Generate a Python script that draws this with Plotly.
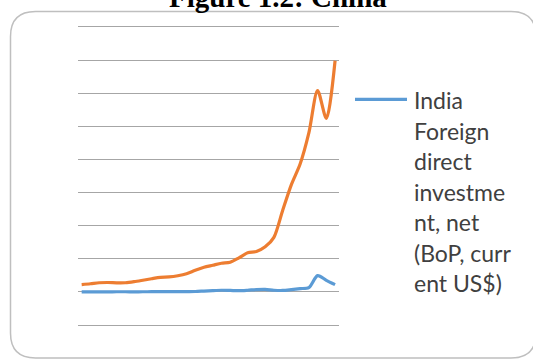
import plotly.graph_objects as go

# Annual series (US$ billions), oldest to newest
years = list(range(1984, 2014))
china_fdi = [11.1, 12.3, 13.8, 14.2, 13.7, 13.8, 15.4, 17.6, 19.9, 22.0,
             22.6, 24.4, 27.4, 32.7, 37.2, 40.2, 43.2, 44.7, 51.5, 59.0,
             61.0, 68.0, 82.4, 123.0, 162.0, 193.0, 240.0, 304.0, 262.0, 349.0]
india_fdi = [0.1, 0.1, 0.1, 0.1, 0.2, 0.2, 0.1, 0.2, 0.3, 0.3,
             0.4, 0.4, 0.5, 0.6, 1.3, 2.0, 2.5, 2.2, 1.8, 2.5,
             3.5, 3.8, 2.5, 2.2, 3.5, 5.0, 6.5, 24.5, 17.5, 11.0]
legend_lines = ["India", "Foreign", "direct", "investme", "nt, net",
                "(BoP, curr", "ent US$)"]
title_text = "Figure 1.2: China"

FIG_W, FIG_H = 533, 361
# value axis spans -65..415 so the -50 and 400 gridlines sit inside the plot
Y_MIN, Y_MAX = -65.08, 415.08
L, R, T, B = 78, 194, 16.5, 26
PW = FIG_W - L - R
PH = FIG_H - T - B


def px_x(px):
    return (px - L) / PW


def px_y(py):
    return (FIG_H - B - py) / PH


fig = go.Figure()
fig.add_trace(go.Scatter(
    x=years, y=china_fdi, mode="lines", name="China",
    line=dict(color="#ED7D31", width=3.2, shape="spline", smoothing=0.8),
    showlegend=False,
))
fig.add_trace(go.Scatter(
    x=years, y=india_fdi, mode="lines",
    name="India Foreign direct investment, net (BoP, current US$)",
    line=dict(color="#5B9BD5", width=3.2, shape="spline", smoothing=0.8),
    showlegend=False,
))

# Rounded chart frame
x0, x1, y0, y1, r = 10.5, 536, 11, 358, 25
path = (
    f"M {px_x(x0)} {px_y(y0 + r)} "
    f"Q {px_x(x0)} {px_y(y0)} {px_x(x0 + r)} {px_y(y0)} "
    f"L {px_x(x1 - r)} {px_y(y0)} "
    f"Q {px_x(x1)} {px_y(y0)} {px_x(x1)} {px_y(y0 + r)} "
    f"L {px_x(x1)} {px_y(y1 - r)} "
    f"Q {px_x(x1)} {px_y(y1)} {px_x(x1 - r)} {px_y(y1)} "
    f"L {px_x(x0 + r)} {px_y(y1)} "
    f"Q {px_x(x0)} {px_y(y1)} {px_x(x0)} {px_y(y1 - r)} Z"
)
fig.add_shape(type="path", path=path, xref="paper", yref="paper",
              line=dict(color="#BFBFBF", width=1.5), layer="below")

# Legend entry for the India series
fig.add_shape(type="line", xref="paper", yref="paper",
              x0=px_x(355), x1=px_x(407), y0=px_y(99), y1=px_y(99),
              line=dict(color="#5B9BD5", width=3.2))
for k, txt in enumerate(legend_lines):
    fig.add_annotation(
        text=txt, xref="paper", yref="paper",
        x=px_x(412), y=px_y(100 + k * 30.5),
        xanchor="left", yanchor="middle", showarrow=False,
        font=dict(family="Lato, Open Sans, sans-serif", size=23, color="#404040"),
    )

fig.add_annotation(
    text=f"<b>{title_text}</b>", xref="paper", yref="paper",
    x=px_x(278), y=px_y(14.5), xanchor="center", yanchor="bottom",
    showarrow=False,
    font=dict(family="Liberation Serif, Times New Roman, serif", size=29, color="#000000"),
)

fig.update_layout(
    width=FIG_W, height=FIG_H,
    margin=dict(l=L, r=R, t=T, b=B, pad=0),
    paper_bgcolor="white", plot_bgcolor="white",
    xaxis=dict(range=[years[0] - 0.42, years[-1] + 0.45], showgrid=False,
               showticklabels=False, ticks="", zeroline=False, showline=False),
    yaxis=dict(range=[Y_MIN, Y_MAX], dtick=50, tick0=0, showgrid=True,
               gridcolor="#A6A6A6", gridwidth=1, showticklabels=False,
               ticks="", zeroline=False, showline=False),
)

fig.write_html("out.html")
